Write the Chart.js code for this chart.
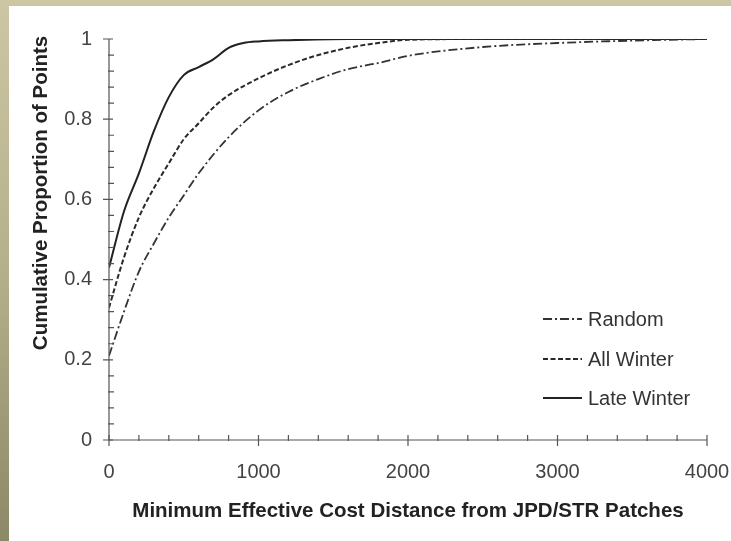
<!DOCTYPE html>
<html>
<head>
<meta charset="utf-8">
<script src="https://cdn.jsdelivr.net/npm/chart.js@4.4.1/dist/chart.umd.min.js"></script>
<style>
  html, body { margin: 0; padding: 0; }
  body {
    width: 731px; height: 541px; overflow: hidden;
    background: linear-gradient(to bottom, #ccc6a4 0%, #b5b08c 50%, #8b8967 100%);
    position: relative;
  }
  #panel {
    position: absolute; left: 9px; top: 6px; width: 722px; height: 535px;
    background: #fff;
  }
  #topband { position: absolute; left: 0; top: 0; width: 731px; height: 6px; background: #ccc6a4; }
</style>
</head>
<body>
<div id="topband"></div>
<div id="panel"><canvas id="cdfChart" width="722" height="535"></canvas></div>
<script>
// Cumulative proportion of points vs. minimum effective cost distance
const X_TITLE = "Minimum Effective Cost Distance from JPD/STR Patches";
const Y_TITLE = "Cumulative Proportion of Points";

const X_TICKS = [0, 1000, 2000, 3000, 4000];
const Y_TICKS = [0, 0.2, 0.4, 0.6, 0.8, 1];

const randomDist = [0, 100, 200, 300, 400, 500, 600, 800, 1000, 1200, 1400, 1600, 1800, 2000, 2500, 3000, 3500, 4000];
const randomProp = [0.21, 0.32, 0.42, 0.49, 0.555, 0.61, 0.665, 0.755, 0.822, 0.868, 0.9, 0.925, 0.94, 0.958, 0.98, 0.99, 0.996, 1.0];

const allWinterDist = [0, 100, 200, 300, 400, 500, 600, 700, 800, 1000, 1200, 1400, 1600, 1800, 2000, 2500, 4000];
const allWinterProp = [0.33, 0.455, 0.555, 0.628, 0.69, 0.75, 0.79, 0.83, 0.86, 0.902, 0.935, 0.96, 0.978, 0.99, 0.998, 1.0, 1.0];

const lateWinterDist = [0, 100, 200, 300, 400, 500, 600, 700, 800, 900, 1000, 1200, 1600, 4000];
const lateWinterProp = [0.43, 0.57, 0.665, 0.77, 0.855, 0.91, 0.93, 0.95, 0.978, 0.99, 0.994, 0.997, 1.0, 1.0];

const FONT = "'Liberation Sans', Arial, sans-serif";

function toPoints(xs, ys) {
  return xs.map((x, i) => ({ x: x, y: ys[i] }));
}

// axis lines, major/minor ticks, rotated y title and legend
const axisDecor = {
  id: "axisDecor",
  afterDraw(chart) {
    const ctx = chart.ctx;
    const xs = chart.scales.x;
    const ys = chart.scales.y;
    const x0 = xs.left;
    const y0 = ys.bottom;
    ctx.save();
    ctx.strokeStyle = "#555";
    ctx.lineWidth = 1.2;

    ctx.beginPath();
    ctx.moveTo(x0, ys.top);
    ctx.lineTo(x0, y0);
    ctx.lineTo(xs.right, y0);
    ctx.stroke();

    ctx.beginPath();
    for (let v = 0; v <= 4000; v += 200) {
      const px = xs.getPixelForValue(v);
      if (v % 1000 === 0) {
        ctx.moveTo(px, y0 - 5);
        ctx.lineTo(px, y0 + 6);
      } else {
        ctx.moveTo(px, y0 - 5);
        ctx.lineTo(px, y0 + 1);
      }
    }
    for (let k = 0; k <= 25; k++) {
      const py = ys.getPixelForValue(k * 0.04);
      if (k % 5 === 0) {
        ctx.moveTo(x0 - 6, py);
        ctx.lineTo(x0 + 4, py);
      } else {
        ctx.moveTo(x0 - 1, py);
        ctx.lineTo(x0 + 5, py);
      }
    }
    ctx.stroke();

    // y title
    ctx.fillStyle = "#222";
    ctx.font = "bold 20.5px " + FONT;
    ctx.textAlign = "center";
    ctx.textBaseline = "middle";
    ctx.translate(32, 187);
    ctx.rotate(-Math.PI / 2);
    ctx.fillText(Y_TITLE, 0, 0);
    ctx.setTransform(1, 0, 0, 1, 0, 0);

    // legend
    const rows = [313, 353, 392];
    chart.data.datasets.forEach((ds, i) => {
      const y = rows[i];
      ctx.beginPath();
      ctx.setLineDash(ds.borderDash || []);
      ctx.strokeStyle = ds.borderColor;
      ctx.lineWidth = ds.borderWidth;
      ctx.moveTo(534, y);
      ctx.lineTo(573, y);
      ctx.stroke();
      ctx.setLineDash([]);
      ctx.fillStyle = "#333";
      ctx.font = "20px " + FONT;
      ctx.textAlign = "left";
      ctx.fillText(ds.label, 579, y + 1);
    });
    ctx.restore();
  },
};

function initChart() {
  const ctx = document.getElementById("cdfChart").getContext("2d");
  new Chart(ctx, {
    type: "line",
    data: {
      datasets: [
        {
          label: "Random",
          data: toPoints(randomDist, randomProp),
          borderColor: "#333",
          borderWidth: 1.8,
          borderDash: [9, 3, 2, 3],
          pointRadius: 0,
          cubicInterpolationMode: "monotone",
          fill: false,
        },
        {
          label: "All Winter",
          data: toPoints(allWinterDist, allWinterProp),
          borderColor: "#2a2a2a",
          borderWidth: 2,
          borderDash: [5, 2.5],
          pointRadius: 0,
          cubicInterpolationMode: "monotone",
          fill: false,
        },
        {
          label: "Late Winter",
          data: toPoints(lateWinterDist, lateWinterProp),
          borderColor: "#222",
          borderWidth: 2,
          pointRadius: 0,
          cubicInterpolationMode: "monotone",
          fill: false,
        },
      ],
    },
    options: {
      responsive: false,
      animation: false,
      layout: { padding: { left: 0, top: 33, right: 24, bottom: 17 } },
      plugins: {
        legend: { display: false },
        tooltip: { enabled: false },
      },
      scales: {
        x: {
          type: "linear",
          min: 0,
          max: 4000,
          afterBuildTicks: (s) => { s.ticks = X_TICKS.map((v) => ({ value: v })); },
          afterFit: (s) => { s.height = 84; s.paddingLeft = 0; s.paddingRight = 0; },
          grid: { display: false, drawTicks: false },
          border: { display: false },
          ticks: {
            color: "#444",
            font: { family: FONT, size: 20 },
            padding: 20,
            maxRotation: 0,
            callback: (v) => String(v),
          },
          title: {
            display: true,
            text: X_TITLE,
            color: "#222",
            font: { family: FONT, size: 20.5, weight: "bold" },
            padding: { top: 0, bottom: 0 },
          },
        },
        y: {
          type: "linear",
          min: 0,
          max: 1,
          afterBuildTicks: (s) => { s.ticks = Y_TICKS.map((v) => ({ value: v })); },
          afterFit: (s) => { s.width = 100; s.paddingTop = 0; s.paddingBottom = 0; },
          grid: { display: false, drawTicks: false },
          border: { display: false },
          ticks: {
            color: "#444",
            font: { family: FONT, size: 20 },
            padding: 17,
            callback: (v) => String(v),
          },
        },
      },
    },
    plugins: [axisDecor],
  });
}

document.addEventListener("DOMContentLoaded", initChart);
</script>
</body>
</html>
